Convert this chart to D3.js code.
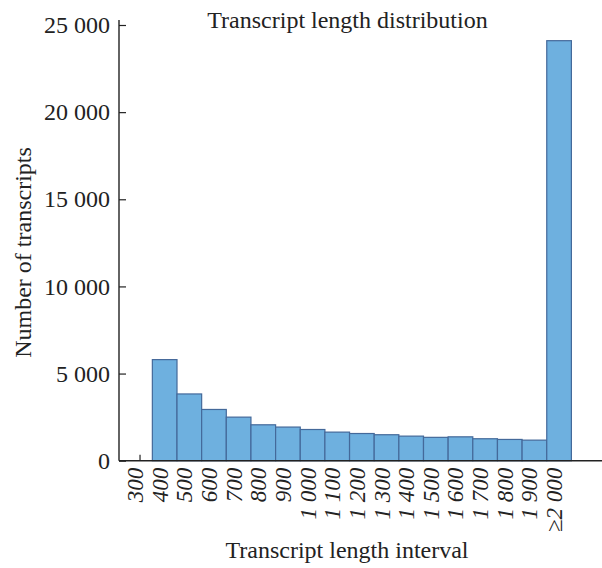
<!DOCTYPE html>
<html>
<head>
<meta charset="utf-8">
<script src="https://cdn.jsdelivr.net/npm/d3@7"></script>
<style>
  html, body { margin: 0; padding: 0; background: #fff; }
  svg { display: block; font-family: "Liberation Serif", "Times New Roman", serif; }
</style>
</head>
<body>
<svg id="chart" width="602" height="568"></svg>
<script>
// Transcript length intervals (x categories)
const categories = ["300", "400", "500", "600", "700", "800", "900",
  "1 000", "1 100", "1 200", "1 300", "1 400", "1 500", "1 600",
  "1 700", "1 800", "1 900", "\u22652 000"];
// Number of transcripts per interval
const counts = [0, 5800, 3830, 2940, 2500, 2060, 1930, 1790, 1640, 1560,
  1490, 1410, 1340, 1370, 1260, 1220, 1180, 24100];
// Y-axis tick values and their labels
const yTicks = [0, 5000, 10000, 15000, 20000, 25000];
const yTickLabels = ["0", "5 000", "10 000", "15 000", "20 000", "25 000"];

const svg = d3.select("#chart");
const axisX = 119, baseY = 460.7;

const x = d3.scaleBand().domain(categories).range([127.7, 571.4]).padding(0);
const y = d3.scaleLinear().domain([0, 25000]).range([baseY, 25]);

const data = categories.map((c, i) => ({ cat: c, value: counts[i] }));

// x-axis ticks (pointing inward, mostly hidden behind the bars)
const xAxis = d3.axisBottom(x).tickSize(-6).tickFormat("").tickSizeOuter(0);
const gx = svg.append("g").attr("transform", `translate(0,${baseY})`).call(xAxis);
gx.select(".domain").remove();
gx.selectAll(".tick line").attr("stroke", "#222").attr("stroke-width", 1.2);

// bars
svg.append("g").selectAll("rect")
  .data(data.filter(d => d.value > 0))
  .join("rect")
  .attr("x", d => x(d.cat))
  .attr("y", d => y(d.value))
  .attr("width", x.bandwidth())
  .attr("height", d => baseY - y(d.value))
  .attr("fill", "#6eb0df")
  .attr("stroke", "#44699a")
  .attr("stroke-width", 1.2);

// x tick labels, rotated
svg.append("g").selectAll("text")
  .data(categories)
  .join("text")
  .attr("transform", d => `translate(${x(d) + x.bandwidth() / 2},${baseY}) rotate(-90)`)
  .attr("x", -7)
  .attr("dy", 3)
  .attr("text-anchor", "end")
  .attr("font-style", "italic")
  .attr("font-size", 23)
  .attr("fill", "#222")
  .text(d => d);

// axis lines
svg.append("line").attr("x1", axisX).attr("x2", 602).attr("y1", baseY).attr("y2", baseY)
  .attr("stroke", "#222").attr("stroke-width", 1.4);

const yAxis = d3.axisLeft(y).tickValues(yTicks).tickSize(-7).tickPadding(9)
  .tickFormat((d, i) => yTickLabels[i]).tickSizeOuter(0);
const gy = svg.append("g").attr("transform", `translate(${axisX},0)`).call(yAxis);
gy.select(".domain").remove();
gy.selectAll(".tick line").attr("stroke", "#222").attr("stroke-width", 1.2);
gy.selectAll(".tick text").attr("font-size", 24).attr("fill", "#222")
  .attr("font-family", "Liberation Serif, serif");
svg.append("line").attr("x1", axisX).attr("x2", axisX).attr("y1", 20).attr("y2", baseY)
  .attr("stroke", "#222").attr("stroke-width", 1.4);

// titles
svg.append("text").attr("x", 347.5).attr("y", 28).attr("text-anchor", "middle")
  .attr("font-size", 24).attr("fill", "#222").text("Transcript length distribution");
svg.append("text").attr("x", 347).attr("y", 558).attr("text-anchor", "middle")
  .attr("font-size", 24).attr("fill", "#222").text("Transcript length interval");
svg.append("text").attr("transform", "translate(31,252.5) rotate(-90)").attr("text-anchor", "middle")
  .attr("font-size", 24).attr("fill", "#222").text("Number of transcripts");
</script>
</body>
</html>
